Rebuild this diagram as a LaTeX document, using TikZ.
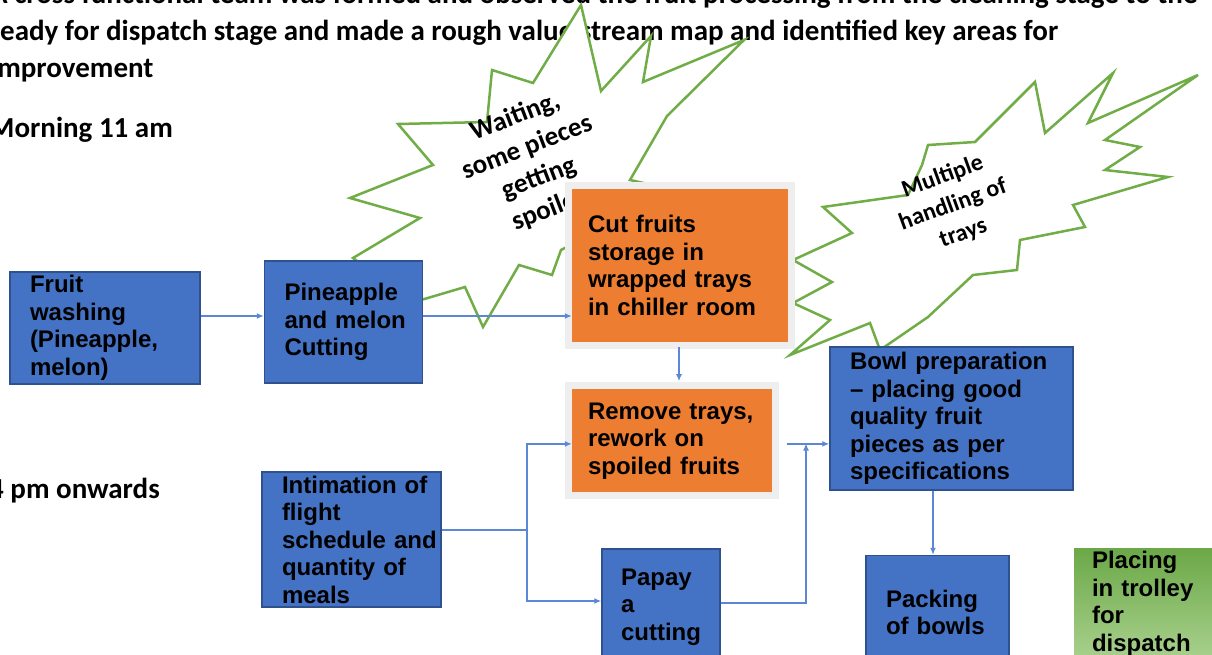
\documentclass[tikz,border=0pt]{standalone}
\usepackage{fontspec}
\setmainfont{Liberation Sans}
\newfontfamily\calibri{Carlito}
\usetikzlibrary{arrows.meta, positioning}
\definecolor{boxblue}{HTML}{4472C4}
\definecolor{boxedge}{HTML}{2F528F}
\definecolor{boxorange}{HTML}{ED7D31}
\definecolor{framegrey}{HTML}{EEEEEE}
\definecolor{burstgreen}{HTML}{70AD47}
\definecolor{linkblue}{HTML}{5B87D4}
\definecolor{trolleytop}{HTML}{6BA847}
\definecolor{trolleybot}{HTML}{A9D18E}
\tikzset{
  boxtext/.style   = {font=\bfseries\fontsize{24}{27.5}\selectfont, align=left},
  stage/.style     = {rectangle, draw=boxedge, line width=1.5pt, fill=boxblue,
                      boxtext, inner xsep=20pt},
  hold/.style      = {rectangle, fill=boxorange,
                      preaction={draw=framegrey, line width=14pt},
                      boxtext, inner xsep=16pt},
  dispatch/.style  = {rectangle, top color=trolleytop, bottom color=trolleybot,
                      boxtext, inner xsep=18pt},
  burst/.style     = {draw=burstgreen, line width=2.5pt, fill=white, line join=miter},
  bursttext/.style = {font=\calibri\bfseries, align=center, inner sep=0pt},
  note/.style      = {font=\calibri\bfseries\fontsize{29}{37}\selectfont,
                      align=left, inner sep=0pt, anchor=base west},
  arrow/.style     = {->, >={Latex[length=7pt, width=6pt]}, draw=linkblue,
                      line width=1.3pt}
}

\begin{document}
\begin{tikzpicture}[x=1pt, y=-1pt]
  \useasboundingbox (0,0) rectangle (1212,655);
  \clip (0,0) rectangle (1212,655);

  \node[note] (intro)   at (-10,78)  {A cross functional team was formed and observed the fruit processing from the cleaning stage to the\\
    ready for dispatch stage and made a rough value stream map and identified key areas for\\
    improvement};
  \node[note] (morning) at (-11,138) {Morning 11 am};
  \node[note] (evening) at (-11,498) {4 pm onwards};

  \draw[burst] (353,258) -- (420,218) -- (350,198) -- (433,165) -- (398,124)
    -- (487,122) -- (492,70) -- (533,83) -- (581,5) -- (601,91) -- (651,36)
    -- (643,82) -- (744,40) -- (667,116) -- (630,180) -- (720,200) -- (600,230)
    -- (561,250) -- (552,275) -- (519,265) -- (483,327) -- (465,287)
    -- (421,300) -- (395,290) -- cycle;
  \node[bursttext, rotate=21, font=\calibri\bfseries\fontsize{27}{33}\selectfont]
    (waiting) at (533,163) {Waiting,\\some pieces\\getting\\spoiled};

  \draw[burst] (793,260) -- (852,233) -- (823,207) -- (908,195) -- (922,165)
    -- (928,145) -- (975,142) -- (1035,82) -- (1045,133) -- (1113,73)
    -- (1088,123) -- (1198,75) -- (1105,140) -- (1140,147) -- (1105,170)
    -- (1168,177) -- (1073,205) -- (1085,227) -- (1020,240) -- (1017,270)
    -- (973,275) -- (928,317) -- (880,350) -- (870,323) -- (790,355)
    -- (830,320) -- (793,303) -- (832,282) -- cycle;
  \node[bursttext, rotate=20, font=\calibri\bfseries\fontsize{24}{30}\selectfont]
    (handling) at (953,205) {Multiple\\handling of\\trays};

  \node[stage, minimum width=190pt, minimum height=110pt, text width=150pt]
    (wash) at (105,328) {Fruit\\washing\\(Pineapple,\\melon)};
  \node[stage, minimum width=158pt, minimum height=122pt, text width=118pt,
    right=63pt of wash, yshift=6pt] (cut) {Pineapple\\and~melon\\Cutting};
  \node[hold, minimum width=216pt, minimum height=153pt, text width=184pt]
    (store) at (680,265.5) {Cut fruits\\storage in\\wrapped trays\\in chiller room};
  \node[hold, minimum width=200pt, minimum height=103pt, text width=168pt,
    below=47pt of store, xshift=-8pt] (rework) {Remove trays,\\rework on\\spoiled fruits};
  \node[stage, minimum width=243pt, minimum height=143pt, text width=203pt]
    (bowl) at (951.5,418.5) {Bowl preparation\\-- placing good\\quality fruit\\pieces as per\\specifications};
  \node[stage, minimum width=143pt, minimum height=114pt, text width=103pt,
    below=64pt of bowl, xshift=-14pt] (pack) {Packing\\of bowls};
  \node[stage, minimum width=179pt, minimum height=135pt, text width=139pt]
    (intim) at (351.5,539.5) {Intimation~of\\flight\\schedule~and\\quantity~of\\meals};
  \node[stage, minimum width=118pt, minimum height=116pt, text width=80pt,
    inner xsep=19pt] (papaya) at (661,607) {Papay\\a\\cutting};
  \node[dispatch, minimum width=150pt, minimum height=112pt, text width=114pt]
    (trolley) at (1149,604) {Placing\\in trolley\\for\\dispatch};

  \coordinate (split) at (527,530);
  \coordinate (merge) at (806,443.5);
  \draw[arrow] ([yshift=12pt]wash.east) -- ([yshift=12pt]wash.east -| cut.west);
  \draw[arrow] ([yshift=6pt]cut.east) -- ([yshift=6pt]cut.east -| store.west);
  \draw[arrow, shorten <=5pt, shorten >=8pt] ([xshift=-1pt]store.south)
    -- ([xshift=-1pt]store.south |- rework.north);
  \draw[arrow, shorten <=15pt] ([yshift=-3pt]rework.east) -- ([yshift=-3pt]rework.east -| bowl.west);
  \draw[arrow] (intim.east |- split) -- (split) |- ([yshift=-3pt]rework.west);
  \draw[arrow] (split) |- ([yshift=6pt]papaya.west);
  \draw[arrow] ([yshift=4pt]papaya.east) -| (merge);
  \draw[arrow] ([xshift=-18.5pt]bowl.south) -- ([xshift=-18.5pt]bowl.south |- pack.north);
\end{tikzpicture}
\end{document}
